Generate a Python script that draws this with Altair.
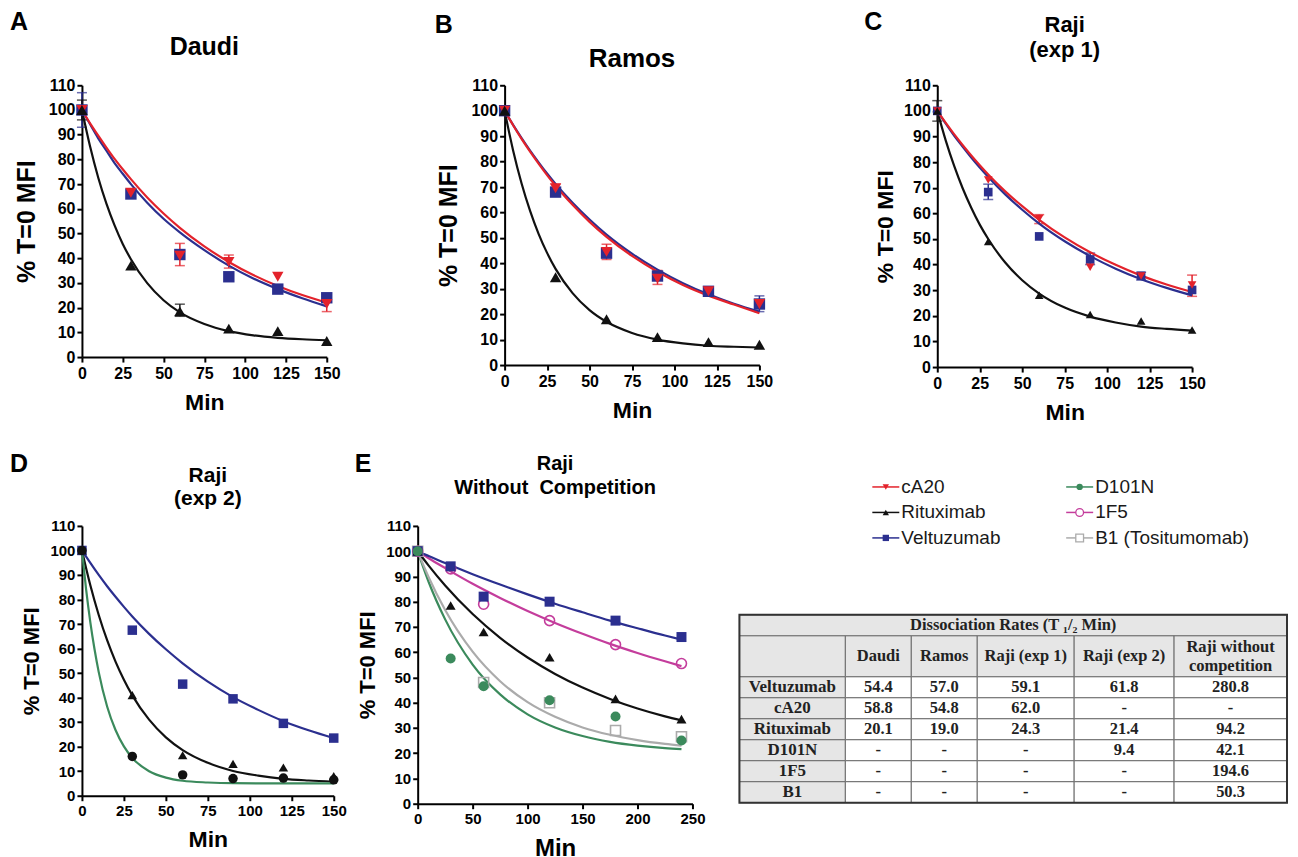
import altair as alt
import pandas as pd

# ---------------- data ----------------
t_pts = [0, 30, 60, 90, 120, 150]
fit_t = [0, 5, 10, 15, 20, 25, 30, 40, 50, 60, 75, 90, 105, 120, 135, 150]

# A  Daudi
A_velt = [100, 66, 41.5, 32.5, 27.5, 24]
A_ca20 = [100, 66.5, 41, 38.5, 32.5, 21.5]
A_ritux = [100, 37, 18.5, 11.5, 10.5, 6.5]
A_fit_velt = [100, 94.2, 88.5, 83.5, 78.5, 74.2, 70, 62.5, 56, 50.5, 43.3, 37, 31.8, 27.5, 23.8, 20.5]
A_fit_ca20 = [100, 94.6, 89.6, 84.8, 80.2, 76, 72, 64.6, 58.1, 52.3, 44.8, 38.5, 33.2, 28.8, 25.1, 22]
A_fit_ritux = [100, 85.2, 72.6, 62.1, 53.3, 45.8, 39.6, 29.9, 23, 18.1, 13.4, 10.5, 8.8, 7.8, 7.2, 6.8]
A_err = [("Veltuzumab", 0, 93, 107), ("Rituximab", 0, 96, 104), ("cA20", 60, 37, 46),
         ("cA20", 90, 36, 41.3), ("cA20", 150, 18.4, 24.5), ("Rituximab", 60, 16.5, 21.4)]

# B  Ramos
B_velt = [100, 68, 44, 35, 29, 24]
B_ca20 = [100, 69.5, 44.5, 34, 29, 24]
B_ritux = [100, 34.5, 18, 11, 9, 8]
B_fit_velt = [100, 94.4, 89.2, 84.3, 79.7, 75.3, 71.2, 63.8, 57.2, 51.3, 43.8, 37.5, 32.2, 27.8, 24.1, 21]
B_fit_ca20 = [100, 94.3, 88.9, 83.9, 79.2, 74.7, 70.5, 63, 56.3, 50.4, 42.9, 36.7, 31.5, 27.3, 23.8, 20.4]
B_fit_ritux = [100, 84.4, 71.4, 60.6, 51.6, 44.1, 37.8, 28.3, 21.6, 17, 12.6, 10, 8.5, 7.6, 7.2, 6.9]
B_err = [("cA20", 30, 67.5, 71), ("cA20", 60, 41.5, 47.5), ("cA20", 90, 31.7, 37.2),
         ("Veltuzumab", 120, 28, 30.5), ("Veltuzumab", 150, 21, 27.2)]

# C  Raji (exp 1)
C_velt = [100, 68.3, 51, 42, 35.6, 30.1]
C_ca20 = [100, 73, 58, 39, 35.5, 32]
C_ritux = [100, 49, 28, 20.5, 18, 14.5]
C_fit_velt = [100, 95, 90.3, 86, 81.8, 77.9, 74.2, 67.4, 61.4, 56, 49.1, 43.3, 38.4, 34.3, 30.9, 28]
C_fit_ca20 = [100, 95.3, 90.8, 86.6, 82.6, 78.8, 75.2, 68.6, 62.8, 57.5, 50.6, 44.8, 39.9, 35.7, 32.2, 29.3]
C_fit_ritux = [100, 88.4, 78.4, 69.7, 62.2, 55.6, 50, 40.8, 33.9, 28.7, 23.2, 19.7, 17.4, 15.8, 14.9, 14.2]
C_err = [("Rituximab", 0, 96, 104), ("Veltuzumab", 30, 65.4, 71.4), ("cA20", 60, 56, 59.5),
         ("Veltuzumab", 90, 40, 44.5), ("Veltuzumab", 120, 34, 37), ("cA20", 150, 27.6, 35.9)]

# D  Raji (exp 2)
D_velt = [100, 67.5, 45.5, 39.5, 29.5, 23.5]
D_ritux = [100, 41, 16.5, 13, 11.5, 8]
D_d101n = [100, 16, 8.5, 7, 7.2, 6.5]
D_fit_velt = [100, 94.9, 90, 85.4, 81.1, 77, 73.1, 66, 59.7, 54, 46.5, 40.2, 35, 30.4, 26.7, 23.5]
D_fit_ritux = [100, 85.8, 73.7, 63.4, 54.7, 47.3, 40.9, 31, 23.8, 18.6, 13.4, 10.1, 8.2, 6.9, 6.2, 5.7]
D_fit_d101n_t = [0, 2.5, 5, 7.5, 10, 15, 20, 25, 30, 40, 50, 60, 75, 90, 120, 150]
D_fit_d101n = [100, 84, 70.7, 59.7, 50.4, 36.4, 26.8, 20.1, 15.4, 10, 7.4, 6.1, 5.4, 5.1, 5, 5]

# E  Raji without competition
E_t = [0, 30, 60, 120, 180, 240]
E_velt = [100, 94, 82, 80, 72.5, 66]
E_1f5 = [100, 93, 79, 72.5, 63, 55.5]
E_ritux = [100, 78.5, 68, 58, 41.5, 33.5]
E_d101n = [100, 57.5, 46.5, 41, 34.5, 25]
E_b1 = [100, None, 48, 40, 29, 26.5]
E_fit_t = [0, 5, 10, 25, 50, 75, 100, 125, 150, 175, 200, 225, 240]
E_fit_velt = [100, 99, 98.1, 95.3, 90.9, 86.8, 82.9, 79.2, 75.8, 72.5, 69.5, 66.6, 65]
E_fit_1f5 = [100, 98.6, 97.2, 93.3, 87.1, 81.5, 76.3, 71.6, 67.3, 63.3, 59.7, 56.4, 54.5]
E_fit_ritux = [100, 97.1, 94.3, 86.4, 75.1, 65.7, 57.9, 51.4, 46, 41.5, 37.7, 34.6, 33]
E_fit_d101n = [100, 93.7, 87.8, 73, 55.1, 43.3, 35.4, 30.2, 26.8, 24.5, 23, 22, 21.6]
E_fit_b1 = [100, 94.7, 89.7, 76.7, 60.2, 48.5, 40.2, 34.4, 30.2, 27.3, 25.2, 23.7, 23]

# legend
legend_keys = ["cA20", "Rituximab", "Veltuzumab", "D101N", "1F5", "B1"]
legend_names = ["cA20", "Rituximab", "Veltuzumab", "D101N", "1F5", "B1 (Tositumomab)"]

# table
table_title = "Dissociation Rates (T \u2081/\u2082 Min)"
table_cols = ["Daudi", "Ramos", "Raji (exp 1)", "Raji (exp 2)", "Raji without\ncompetition"]
table_rows = ["Veltuzumab", "cA20", "Rituximab", "D101N", "1F5", "B1"]
table_vals = [
    ["54.4", "57.0", "59.1", "61.8", "280.8"],
    ["58.8", "54.8", "62.0", "-", "-"],
    ["20.1", "19.0", "24.3", "21.4", "94.2"],
    ["-", "-", "-", "9.4", "42.1"],
    ["-", "-", "-", "-", "194.6"],
    ["-", "-", "-", "-", "50.3"],
]

# ---------------- styles ----------------
COLORS = {"cA20": "#e3222b", "Rituximab": "#111111", "Veltuzumab": "#2b2f8f",
          "D101N": "#3b8a5c", "1F5": "#c43d9c", "B1": "#ababab"}
SHAPES = {"cA20": "triangle-down", "Rituximab": "triangle-up", "Veltuzumab": "square",
          "D101N": "circle", "1F5": "circle", "B1": "square"}
OPEN = {"1F5", "B1"}
FONT = "Liberation Sans"


def label_layer(text, px, py, size, align="center"):
    return alt.Chart(pd.DataFrame({"L": [text]})).mark_text(
        align=align, baseline="alphabetic", fontSize=size, fontWeight="bold", font=FONT, color="black").encode(
        x=alt.value(px), y=alt.value(py), text="L:N")


def panel(letter, lpos, title_lines, title_size, title_ys,
          points, curves, errors, width, height, xmax, xstep, msize,
          lab_size, ytitle_size, xtitle_size, ytp, pcolor=None):
    pcolor = pcolor or {}
    pts = []
    for s, ts, ys in points:
        for t, v in zip(ts, ys):
            if v is None:
                continue
            pts.append(dict(s=s, t=t, y=v, c=pcolor.get(s, COLORS[s]), shp=SHAPES[s], op=s in OPEN))
    pts_df = pd.DataFrame(pts)
    crv = []
    for s, ts, ys in curves:
        for i, (t, v) in enumerate(zip(ts, ys)):
            crv.append(dict(s=s, t=t, y=v, c=COLORS[s], i=i))
    crv_df = pd.DataFrame(crv)

    xax = alt.Axis(values=list(range(0, xmax + 1, xstep)), title="Min", labelFontSize=lab_size,
                   titleFontSize=xtitle_size, titlePadding=10, labelPadding=3)
    yax = alt.Axis(values=list(range(0, 111, 10)), title="% T=0 MFI", labelFontSize=lab_size,
                   titleFontSize=ytitle_size, titlePadding=ytp)
    xs = alt.Scale(domain=[0, xmax], nice=False)
    ys_ = alt.Scale(domain=[0, 110], nice=False)

    def X(f):
        return alt.X(f, scale=xs, axis=xax)

    def Y(f):
        return alt.Y(f, scale=ys_, axis=yax)

    layers = []
    if errors:
        err_df = pd.DataFrame([dict(s=s, t=t, lo=lo, hi=hi, c=COLORS[s]) for s, t, lo, hi in errors])
        cap_df = pd.DataFrame([dict(s=s, t=t, y=v, c=COLORS[s]) for s, t, lo, hi in errors for v in (lo, hi)])
        layers.append(alt.Chart(err_df).mark_rule(strokeWidth=1.5).encode(
            x=X("t:Q"), y=Y("lo:Q"), y2="hi:Q", color=alt.Color("c:N", scale=None)))
        layers.append(alt.Chart(cap_df).mark_tick(orient="horizontal", size=10, thickness=1.5).encode(
            x=X("t:Q"), y=Y("y:Q"), color=alt.Color("c:N", scale=None)))
    layers.append(alt.Chart(crv_df).mark_line(interpolate="monotone", strokeWidth=2.2).encode(
        x=X("t:Q"), y=Y("y:Q"), color=alt.Color("c:N", scale=None), detail="s:N", order="i:Q"))
    open_df = pts_df[pts_df.op]
    fill_df = pts_df[~pts_df.op]
    if len(open_df):
        layers.append(alt.Chart(open_df).mark_point(filled=False, size=msize, opacity=1, strokeWidth=1.6).encode(
            x=X("t:Q"), y=Y("y:Q"), color=alt.Color("c:N", scale=None), shape=alt.Shape("shp:N", scale=None)))
    layers.append(alt.Chart(fill_df).mark_point(filled=True, size=msize, opacity=1).encode(
        x=X("t:Q"), y=Y("y:Q"), color=alt.Color("c:N", scale=None), shape=alt.Shape("shp:N", scale=None)))
    layers.append(label_layer(letter, lpos[0], lpos[1], 25, align="left"))
    for line, ty_ in zip(title_lines, title_ys):
        layers.append(label_layer(line, width / 2, ty_, title_size))
    return alt.layer(*layers).properties(width=width, height=height)


A = panel("A", (-72, -55), ["Daudi"], 25, [-30],
          [("Veltuzumab", t_pts, A_velt), ("cA20", t_pts, A_ca20), ("Rituximab", t_pts, A_ritux)],
          [("Rituximab", fit_t, A_fit_ritux), ("Veltuzumab", fit_t, A_fit_velt), ("cA20", fit_t, A_fit_ca20)],
          A_err, 245, 272, 150, 25, 130, 16, 25, 23, 9)
B = panel("B", (-70, -52), ["Ramos"], 26, [-18],
          [("Veltuzumab", t_pts, B_velt), ("cA20", t_pts, B_ca20), ("Rituximab", t_pts, B_ritux)],
          [("Rituximab", fit_t, B_fit_ritux), ("Veltuzumab", fit_t, B_fit_velt), ("cA20", fit_t, B_fit_ca20)],
          B_err, 255, 280, 150, 25, 130, 16, 25, 23, 9)
C = panel("C", (-73, -55), ["Raji", "(exp 1)"], 22, [-53, -28],
          [("Veltuzumab", t_pts, C_velt), ("cA20", t_pts, C_ca20), ("Rituximab", t_pts, C_ritux)],
          [("Rituximab", fit_t, C_fit_ritux), ("Veltuzumab", fit_t, C_fit_velt), ("cA20", fit_t, C_fit_ca20)],
          C_err, 255, 282, 150, 25, 75, 16, 23, 23, 6)
D = panel("D", (-72, -54), ["Raji", "(exp 2)"], 21, [-44, -21],
          [("Veltuzumab", t_pts, D_velt), ("Rituximab", t_pts, D_ritux), ("D101N", t_pts, D_d101n)],
          [("Veltuzumab", fit_t, D_fit_velt), ("Rituximab", fit_t, D_fit_ritux), ("D101N", D_fit_d101n_t, D_fit_d101n)],
          [], 252, 270, 150, 25, 90, 15, 22, 23, 6, pcolor={"D101N": "#111111"})
E = panel("E", (-63, -54), ["Raji", "Without \u00a0Competition"], 20, [-56, -32],
          [("B1", E_t, E_b1), ("1F5", E_t, E_1f5), ("Veltuzumab", E_t, E_velt),
           ("Rituximab", E_t, E_ritux), ("D101N", E_t, E_d101n)],
          [("D101N", E_fit_t, E_fit_d101n), ("B1", E_fit_t, E_fit_b1), ("Rituximab", E_fit_t, E_fit_ritux),
           ("1F5", E_fit_t, E_fit_1f5), ("Veltuzumab", E_fit_t, E_fit_velt)],
          [], 275, 278, 250, 50, 100, 15, 22, 24, 6)

# ---------------- table + legend panel ----------------
col_widths = [106, 66, 66, 97, 100, 113]
row_heights = [21, 41, 21, 21, 21, 21, 21, 21]
TAB_X0, TAB_Y0 = -37, 89
LINE_H = 19
GRAY, WHITE = "#e6e6e6", "#ffffff"

xe = [0]
for w in col_widths:
    xe.append(xe[-1] + w)
ye = [0]
for h in row_heights:
    ye.append(ye[-1] + h)

cells = [dict(x0=0, x1=xe[-1], y0=ye[0], y1=ye[1], txt=table_title, bg=GRAY, fs=16.5)]
cells.append(dict(x0=xe[0], x1=xe[1], y0=ye[1], y1=ye[2], txt="", bg=GRAY, fs=16))
for j, cname in enumerate(table_cols):
    cells.append(dict(x0=xe[j + 1], x1=xe[j + 2], y0=ye[1], y1=ye[2], txt=cname, bg=GRAY, fs=16.5))
for i, rname in enumerate(table_rows):
    cells.append(dict(x0=xe[0], x1=xe[1], y0=ye[i + 2], y1=ye[i + 3], txt=rname, bg=GRAY, fs=17))
    for j, v in enumerate(table_vals[i]):
        cells.append(dict(x0=xe[j + 1], x1=xe[j + 2], y0=ye[i + 2], y1=ye[i + 3], txt=v, bg=WHITE, fs=16.5))
cell_df = pd.DataFrame(cells)

texts = []
for c in cells:
    lines = c["txt"].split("\n")
    n = len(lines)
    for k, ln in enumerate(lines):
        texts.append(dict(xm=(c["x0"] + c["x1"]) / 2,
                          ym=(c["y0"] + c["y1"]) / 2 + (k - (n - 1) / 2) * LINE_H,
                          txt=ln, fs=c["fs"]))
text_df = pd.DataFrame(texts)

tx = alt.Scale(domain=[0, xe[-1]], range=[TAB_X0, TAB_X0 + xe[-1]])
ty = alt.Scale(domain=[0, ye[-1]], range=[TAB_Y0, TAB_Y0 + ye[-1]])

tab_rect = alt.Chart(cell_df).mark_rect(stroke="#6a6a6a", strokeWidth=1).encode(
    x=alt.X("x0:Q", scale=tx, axis=None), x2="x1:Q",
    y=alt.Y("y0:Q", scale=ty, axis=None), y2="y1:Q",
    fill=alt.Fill("bg:N", scale=None))
tab_text = alt.Chart(text_df).mark_text(font="Liberation Serif", fontWeight="bold",
                                        baseline="middle", color="#222222").encode(
    x=alt.X("xm:Q", scale=tx, axis=None), y=alt.Y("ym:Q", scale=ty, axis=None),
    text="txt:N", size=alt.Size("fs:Q", scale=None))
border_df = pd.DataFrame([dict(x0=0, x1=xe[-1], y0=0, y1=ye[-1])])
tab_border = alt.Chart(border_df).mark_rect(fillOpacity=0, stroke="#333333", strokeWidth=2).encode(
    x=alt.X("x0:Q", scale=tx, axis=None), x2="x1:Q",
    y=alt.Y("y0:Q", scale=ty, axis=None), y2="y1:Q")
table_layer = alt.layer(tab_rect, tab_text, tab_border)

leg_df = pd.DataFrame([dict(k=k, name=n, lc=i // 3, lr=i % 3, c=COLORS[k], shp=SHAPES[k], op=k in OPEN)
                       for i, (k, n) in enumerate(zip(legend_keys, legend_names))])
lxs = alt.Scale(domain=[0, 1], range=[96, 290])
lys = alt.Scale(domain=[0, 2], range=[-39, 12])
LX = alt.X("lc:Q", scale=lxs, axis=None)
LY = alt.Y("lr:Q", scale=lys, axis=None)
leg_rule = alt.Chart(leg_df).mark_rule(strokeWidth=1.5, x2Offset=27).encode(
    x=LX, x2="lc:Q", y=LY, color=alt.Color("c:N", scale=None))
leg_fill = alt.Chart(leg_df[~leg_df.op]).mark_point(filled=True, size=40, opacity=1, xOffset=13.5).encode(
    x=LX, y=LY, color=alt.Color("c:N", scale=None), shape=alt.Shape("shp:N", scale=None))
leg_open = alt.Chart(leg_df[leg_df.op]).mark_point(filled=False, size=60, opacity=1, strokeWidth=1.3,
                                                   xOffset=13.5, fill="white").encode(
    x=LX, y=LY, color=alt.Color("c:N", scale=None), shape=alt.Shape("shp:N", scale=None))
leg_text = alt.Chart(leg_df).mark_text(align="left", baseline="middle", dx=29, fontSize=19, font=FONT,
                                       color="#1a1a1a").encode(x=LX, y=LY, text="name:N")
legend_layer = alt.layer(leg_rule, leg_fill, leg_open, leg_text)

LT = alt.layer(table_layer, legend_layer).resolve_scale(x="independent", y="independent").properties(
    width=511, height=278)

row1 = alt.hconcat(A, B, C, spacing=178, bounds="flush")
row2 = alt.hconcat(D, E, LT, spacing=84, bounds="flush")

chart = alt.vconcat(row1, row2, spacing=28).properties(
    padding={"left": 2, "top": 2, "right": 2, "bottom": 0}
).configure_view(stroke=None).configure_axis(
    domainColor="black", domainWidth=2, tickColor="black", tickWidth=2, tickSize=5,
    labelColor="black", labelFont=FONT, labelFontWeight="bold", titleFont=FONT,
    titleFontWeight="bold", titleColor="black", grid=False, labelFlush=False, labelOverlap=False
)

chart.save("out.html", embed_options={"renderer": "svg", "actions": False})
